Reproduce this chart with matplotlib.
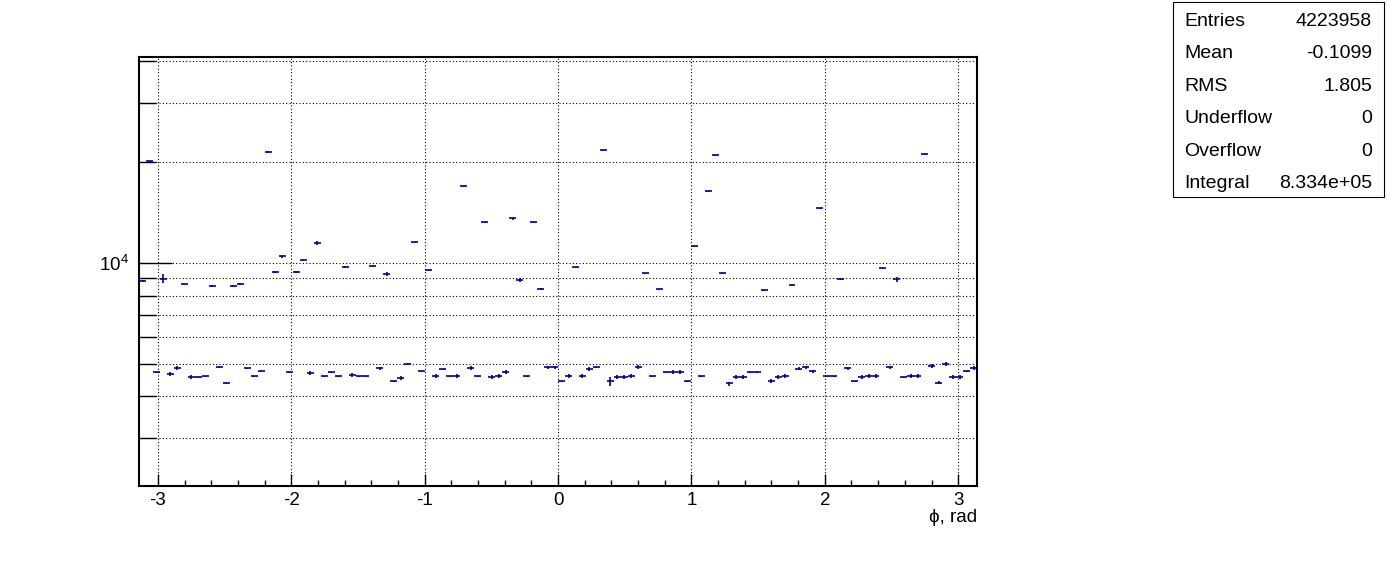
import numpy as np
import matplotlib
matplotlib.use("Agg")
import matplotlib.pyplot as plt
from matplotlib.patches import Rectangle
from matplotlib.ticker import LogLocator, FixedLocator, MultipleLocator, NullFormatter, FuncFormatter

plt.rcParams["font.family"] = ["Liberation Sans", "DejaVu Sans"]
plt.rcParams["axes.unicode_minus"] = False

# 120 bins over [-pi, pi], contents
n_bins = 120
counts = [
    8840, 20100, 4720, 8980, 4660, 4860, 8640, 4560, 4560, 4590,
    8540, 4890, 4380, 8540, 8640, 4850, 4590, 4750, 21450, 9380,
    10470, 4720, 9400, 10190, 4690, 11470, 4590, 4720, 4590, 9730,
    4630, 4590, 4590, 9780, 4850, 9270, 4440, 4530, 5000, 11530,
    4750, 9510, 4590, 4820, 4590, 4590, 16940, 4860, 4590, 13230,
    4560, 4590, 4730, 13590, 8900, 4590, 13230, 8350, 4880, 4880,
    4440, 4590, 9710, 4590, 4820, 4880, 21700, 4440, 4570, 4570,
    4590, 4890, 9320, 4590, 8350, 4720, 4720, 4720, 4440, 11220,
    4590, 16370, 20970, 9320, 4370, 4560, 4560, 4720, 4720, 8290,
    4440, 4560, 4600, 8580, 4840, 4880, 4750, 14570, 4590, 4590,
    8940, 4850, 4440, 4560, 4590, 4590, 9640, 4880, 8940, 4560,
    4600, 4600, 21110, 4930, 4400, 4990, 4560, 4560, 4750, 4860,
]
errors = [
    40, 60, 20, 290, 60, 60, 40, 60, 20, 20,
    40, 20, 20, 40, 60, 20, 20, 20, 130, 60,
    130, 20, 40, 40, 60, 130, 20, 20, 20, 40,
    60, 20, 20, 40, 60, 130, 20, 60, 20, 40,
    20, 40, 60, 20, 20, 60, 40, 60, 20, 40,
    60, 60, 60, 130, 130, 20, 40, 60, 60, 60,
    20, 60, 40, 60, 60, 20, 40, 145, 60, 60,
    60, 60, 40, 20, 40, 20, 60, 60, 20, 60,
    20, 40, 40, 40, 60, 60, 60, 20, 20, 40,
    60, 60, 60, 40, 60, 60, 60, 40, 20, 20,
    40, 60, 20, 60, 60, 60, 40, 60, 170, 20,
    60, 60, 40, 60, 60, 60, 60, 60, 20, 60,
]

stats_labels = ["Entries", "Mean", "RMS", "Underflow", "Overflow", "Integral"]
stats_values = ["4223958", "-0.1099", "1.805", "0", "0", "8.334e+05"]

x_label = "ϕ, rad"
line_color = "#000090"
font_size = 13.5
stats_size = 14


def main():
    fig = plt.figure(figsize=(13.96, 5.72), dpi=100)
    ax = fig.add_axes([0.0996, 0.1503, 0.6003, 0.75])

    edges = np.linspace(-np.pi, np.pi, n_bins + 1)
    centers = 0.5 * (edges[:-1] + edges[1:])
    half = 0.5 * (edges[1] - edges[0])
    ax.errorbar(centers, counts, xerr=half, yerr=errors, fmt="none",
                ecolor=line_color, elinewidth=1.2, capsize=0, zorder=3)

    ax.set_yscale("log")
    ax.set_xlim(-np.pi, np.pi)
    ax.set_ylim(2160, 41200)

    ax.xaxis.set_major_locator(MultipleLocator(1))
    ax.xaxis.set_minor_locator(MultipleLocator(0.2))
    ax.yaxis.set_major_locator(FixedLocator([1e4]))
    ax.yaxis.set_minor_locator(LogLocator(base=10, subs=np.arange(2, 10)))
    ax.yaxis.set_major_formatter(
        FuncFormatter(lambda v, p: r"$\mathregular{10^{%d}}$" % round(np.log10(v))))
    ax.yaxis.set_minor_formatter(NullFormatter())

    ax.tick_params(which="both", direction="in", top=False, right=False,
                   width=1.0, labelsize=font_size, color="black")
    ax.tick_params(axis="x", which="major", length=8.6, pad=4)
    ax.tick_params(axis="x", which="minor", length=4.3)
    ax.tick_params(axis="y", which="major", length=24, pad=7)
    ax.tick_params(axis="y", which="minor", length=12)

    grid_style = dict(color="black", linestyle=(0, (1, 2)), linewidth=0.8)
    ax.grid(True, axis="x", which="major", **grid_style)
    ax.grid(True, axis="y", which="both", **grid_style)
    ax.set_axisbelow(True)

    for spine in ax.spines.values():
        spine.set_linewidth(1.5)

    fig.text(0.6999, 0.096, x_label, ha="right", va="center", fontsize=font_size)

    # stats box
    box_x0, box_x1 = 1173 / 1396, 1384 / 1396
    box_y0, box_y1 = 1 - 197 / 572, 1 - 2 / 572
    fig.add_artist(Rectangle((box_x0, box_y0), box_x1 - box_x0, box_y1 - box_y0,
                             transform=fig.transFigure, fill=False,
                             edgecolor="black", linewidth=0.8))
    row_h = (box_y1 - box_y0) / len(stats_labels)
    for i, (lab, val) in enumerate(zip(stats_labels, stats_values)):
        y = box_y1 - (i + 0.5) * row_h - 3 / 572
        fig.text(1184 / 1396, y, lab, ha="left", va="center", fontsize=stats_size)
        fig.text(1372 / 1396, y, val, ha="right", va="center", fontsize=stats_size)

    fig.savefig("out.png", dpi=100, facecolor="white")


if __name__ == "__main__":
    main()
